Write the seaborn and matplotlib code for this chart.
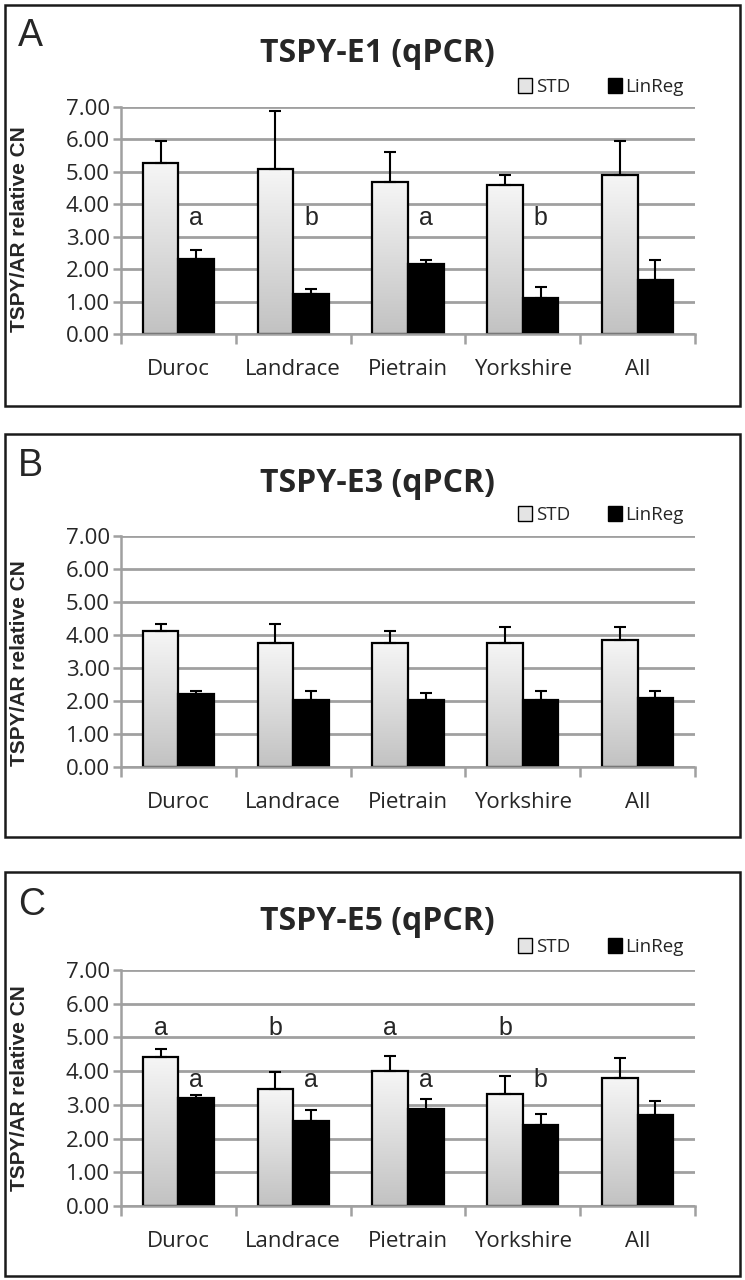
import numpy as np
import pandas as pd
import matplotlib
matplotlib.use("Agg")
import matplotlib.pyplot as plt
import seaborn as sns
from matplotlib.patches import Patch, Rectangle
from matplotlib.colors import LinearSegmentedColormap

breeds = ["Duroc", "Landrace", "Pietrain", "Yorkshire", "All"]
methods = ["STD", "LinReg"]

# panel A: TSPY-E1
e1_std = [5.26, 5.09, 4.70, 4.58, 4.90]
e1_std_err = [0.68, 1.78, 0.91, 0.33, 1.04]
e1_lin = [2.30, 1.24, 2.17, 1.11, 1.68]
e1_lin_err = [0.30, 0.15, 0.10, 0.35, 0.60]
e1_letters_lin = ["a", "b", "a", "b", ""]

# panel B: TSPY-E3
e3_std = [4.11, 3.77, 3.77, 3.76, 3.85]
e3_std_err = [0.21, 0.55, 0.35, 0.49, 0.40]
e3_lin = [2.22, 2.03, 2.03, 2.03, 2.09]
e3_lin_err = [0.09, 0.28, 0.21, 0.28, 0.22]

# panel C: TSPY-E5
e5_std = [4.43, 3.48, 4.01, 3.32, 3.81]
e5_std_err = [0.22, 0.49, 0.45, 0.53, 0.59]
e5_lin = [3.20, 2.51, 2.89, 2.39, 2.70]
e5_lin_err = [0.08, 0.35, 0.27, 0.35, 0.40]
e5_letters_std = ["a", "b", "a", "b", ""]
e5_letters_lin = ["a", "a", "a", "b", ""]

yticks = [0, 1, 2, 3, 4, 5, 6, 7]

sns.set_theme(style="white")
plt.rcParams["font.family"] = ["Open Sans", "DejaVu Sans"]

GRID = "#a0a0a0"
grad_cmap = LinearSegmentedColormap.from_list("bargrad", ["#f6f6f6", "#c2c2c2"])

fig = plt.figure(figsize=(7.45, 12.8), dpi=100)
W, H = 745.0, 1280.0


def draw_panel(ax, std, std_err, lin, lin_err, title, letter,
               box, title_y, legend_y, letter_y, ylabel_y,
               letters_std=None, letters_lin=None, std_y=None, lin_y=None):
    df = pd.DataFrame({
        "breed": breeds * 2,
        "method": ["STD"] * 5 + ["LinReg"] * 5,
        "value": std + lin,
    })
    sns.barplot(data=df, x="breed", y="value", hue="method", order=breeds,
                hue_order=methods, palette={"STD": "none", "LinReg": "black"},
                edgecolor="black", linewidth=1.6, width=0.62, errorbar=None,
                legend=False, ax=ax, zorder=2)
    ax.set_xlim(-0.5, 4.5)
    ax.set_ylim(0, 7)

    # gradient fill on STD bars
    for p in ax.containers[0]:
        p.set_facecolor("none")
        x0, w, h = p.get_x(), p.get_width(), p.get_height()
        grad = np.linspace(0, 1, 256).reshape(-1, 1)
        im = ax.imshow(grad, cmap=grad_cmap, aspect="auto", origin="upper",
                       extent=[x0, x0 + w, 0, h], zorder=1.5)
        im.set_clip_path(p)
    ax.set_xlim(-0.5, 4.5)
    ax.set_ylim(0, 7)

    # one-sided error bars
    for cont, err in zip(ax.containers, [std_err, lin_err]):
        xs = [p.get_x() + p.get_width() / 2 for p in cont]
        ys = [p.get_height() for p in cont]
        ax.errorbar(xs, ys, yerr=[np.zeros(len(err)), err], fmt="none",
                    ecolor="black", elinewidth=1.5, capsize=4.5, capthick=1.5,
                    zorder=3)

    # significance letters
    if letters_std:
        for p, t in zip(ax.containers[0], letters_std):
            ax.text(p.get_x() + p.get_width() / 2, std_y, t, ha="center",
                    va="center", fontsize=18, family="Liberation Sans")
    if letters_lin:
        for p, t in zip(ax.containers[1], letters_lin):
            ax.text(p.get_x() + p.get_width() / 2, lin_y, t, ha="center",
                    va="center", fontsize=18, family="Liberation Sans")

    ax.set_yticks(yticks)
    ax.set_yticklabels([f"{v:.2f}" for v in yticks], fontsize=16)
    ax.yaxis.grid(True, color=GRID, linewidth=2)
    ax.set_axisbelow(True)
    for s in ["top", "right"]:
        ax.spines[s].set_visible(False)
    for s in ["left", "bottom"]:
        ax.spines[s].set_color(GRID)
        ax.spines[s].set_linewidth(1.8)
    ax.tick_params(axis="y", which="major", left=True, length=6, width=1.8,
                   color=GRID, pad=2)
    ax.set_xticks(range(5))
    ax.set_xticklabels(breeds, fontsize=16)
    ax.set_xticks(np.arange(-0.5, 5, 1), minor=True)
    ax.tick_params(axis="x", which="major", length=0, pad=18)
    ax.tick_params(axis="x", which="minor", bottom=True, length=7, width=1.8,
                   color=GRID)
    ax.set_xlabel("")
    ax.set_ylabel("TSPY/AR relative CN", fontsize=15, fontweight="bold",
                  family="Liberation Sans")
    ax.yaxis.set_label_coords(-0.16, ylabel_y)

    # panel frame
    x0, y0, x1, y1 = box
    fig.add_artist(Rectangle((x0 / W, 1 - y1 / H), (x1 - x0) / W, (y1 - y0) / H,
                             transform=fig.transFigure, fill=False,
                             edgecolor="#1a1a1a", linewidth=1.8))
    fig.text(0.507, 1 - title_y / H, title, ha="center", va="center",
             fontsize=23, fontweight="bold")
    fig.text(18 / W, 1 - letter_y / H, letter, ha="left", va="center",
             fontsize=27, family="Liberation Sans")
    handles = [Patch(facecolor="#e4e4e4", edgecolor="black", linewidth=1),
               Patch(facecolor="black", edgecolor="black")]
    fig.legend(handles, methods, loc="center left",
               bbox_to_anchor=(518 / W, 1 - legend_y / H), ncol=2,
               frameon=False, fontsize=13.5, handlelength=0.75,
               handleheight=0.9, handletextpad=0.2, columnspacing=2.0,
               borderaxespad=0, borderpad=0)


ax_left, ax_w = 121 / W, (695 - 121) / W

axA = fig.add_axes([ax_left, 1 - 334 / H, ax_w, (334 - 107) / H])
draw_panel(axA, e1_std, e1_std_err, e1_lin, e1_lin_err, "TSPY-E1 (qPCR)", "A",
           (5, 5, 740, 406), 53, 87, 36, 0.46,
           letters_lin=e1_letters_lin, lin_y=3.57)

axB = fig.add_axes([ax_left, 1 - 767 / H, ax_w, (767 - 536) / H])
draw_panel(axB, e3_std, e3_std_err, e3_lin, e3_lin_err, "TSPY-E3 (qPCR)", "B",
           (5, 434, 740, 837), 483, 515, 466, 0.45)

axC = fig.add_axes([ax_left, 1 - 1206 / H, ax_w, (1206 - 970) / H])
draw_panel(axC, e5_std, e5_std_err, e5_lin, e5_lin_err, "TSPY-E5 (qPCR)", "C",
           (5, 872, 740, 1276), 922, 947, 905, 0.5,
           letters_std=e5_letters_std, letters_lin=e5_letters_lin,
           std_y=5.28, lin_y=3.75)

fig.savefig("out.png", dpi=100)
